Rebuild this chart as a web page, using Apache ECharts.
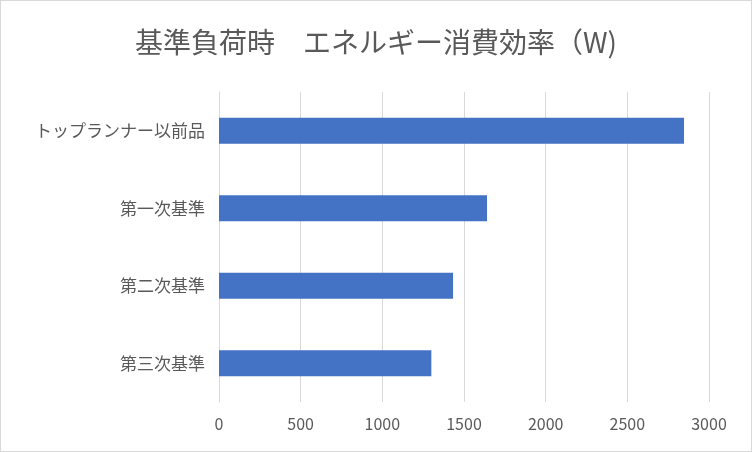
<!DOCTYPE html>
<html><head><meta charset="utf-8">
<script src="https://cdn.jsdelivr.net/npm/echarts@6/dist/echarts.min.js"></script>
<style>html,body{margin:0;padding:0;background:#fff}#c{width:750px;height:450px;border:1px solid #d9d9d9}</style>
</head><body><div id="c"></div>
<script>
const categories = ['第三次基準','第二次基準','第一次基準','トップランナー以前品'];
const values = [1300, 1433, 1641, 2847];
const ticks = [0,500,1000,1500,2000,2500,3000];
const chart = echarts.init(document.getElementById('c'));
const ff = '"Noto Sans CJK JP", sans-serif';
chart.setOption({
  animation:false,
  title:{text:'基準負荷時　エネルギー消費効率（W)',left:'center',top:22,textStyle:{fontFamily:ff,fontSize:28,fontWeight:'normal',color:'#595959'}},
  grid:{left:218,right:42,top:91,bottom:49},
  xAxis:{type:'value',min:0,max:3000,interval:500,
    axisLabel:{fontFamily:ff,fontSize:16,color:'#595959',margin:14,formatter:v=>String(v)},
    splitLine:{lineStyle:{color:'#d9d9d9'}},axisLine:{show:false},axisTick:{show:false}},
  yAxis:{type:'category',data:categories,
    axisLabel:{fontFamily:ff,fontSize:17,color:'#595959',margin:14},
    axisLine:{lineStyle:{color:'#d9d9d9'}},axisTick:{show:false}},
  series:[{type:'bar',data:values,barWidth:26,itemStyle:{color:'#4472c4'}}]
});
</script></body></html>
